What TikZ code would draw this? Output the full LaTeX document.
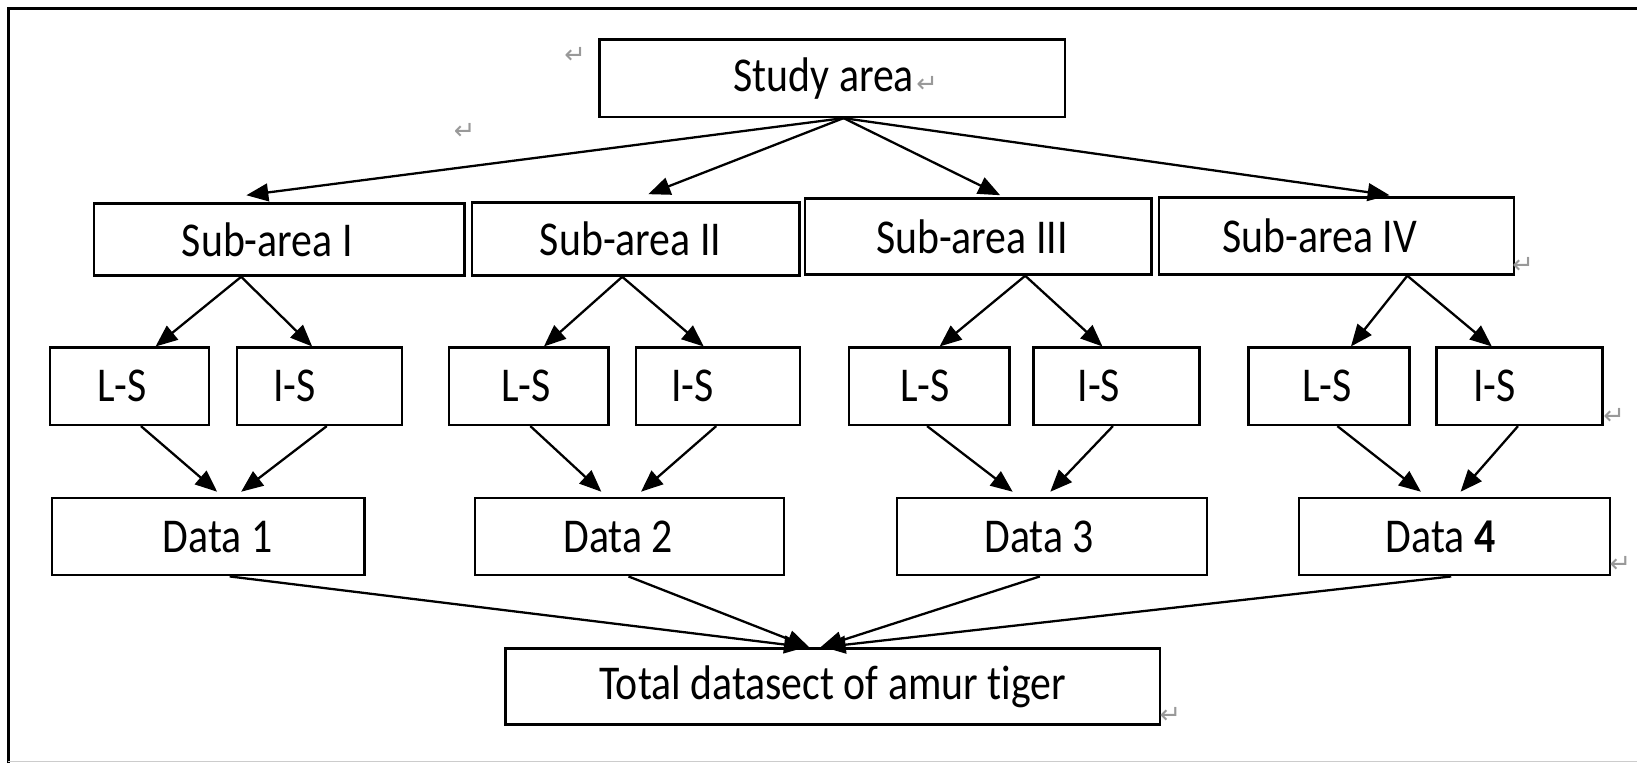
\documentclass[tikz,border=0pt]{standalone}
\usepackage{fontspec}
\setmainfont{Carlito}[FakeStretch=0.86,RawFeature={-liga}]
\newfontfamily\symfont{DejaVu Sans}
\usetikzlibrary{arrows.meta}
\begin{document}
\begin{tikzpicture}[x=0.02cm,y=-0.02cm,
 box/.style={draw,line width=1.3pt,inner sep=0pt,minimum height=1.48cm},
 lbl/.style={font=\fontsize{26.5}{30}\selectfont,inner sep=0pt},
 arr/.style={line width=1.25pt,-{Triangle[length=0.42cm,width=0.34cm]}},
 ret/.style={font=\symfont\fontsize{14}{15}\selectfont,text=gray!80,inner sep=0pt}]
\useasboundingbox (0,0) rectangle (1568,731);
% frame
\draw[line width=1.3pt] (8,731) -- (8,8) -- (1568,8);
\draw[line width=0.6pt,gray!40] (8,729) -- (1568,729);
% nodes
\node[box,minimum width=8.92cm,label={[lbl,xshift=-0.16cm]center:Study area}] (st) at (797,75) {};
\node[box,minimum width=7.10cm,minimum height=1.38cm,label={[lbl,xshift=-0.23cm]center:Sub-area I}] (s1) at (267.5,229.5) {};
\node[box,minimum width=6.28cm,minimum height=1.40cm,label={[lbl,xshift=-0.10cm]center:Sub-area II}] (s2) at (609,229) {};
\node[box,minimum width=6.64cm,minimum height=1.46cm,label={[lbl,xshift=-0.12cm]center:Sub-area III}] (s3) at (937,226.5) {};
\node[box,minimum width=6.80cm,label={[lbl,xshift=-0.32cm]center:Sub-area IV}] (s4) at (1280,226) {};
\node[box,minimum width=3.04cm,label={[lbl,xshift=-0.14cm]center:L-S}] (l1) at (124,370) {};
\node[box,minimum width=3.16cm,label={[lbl,xshift=-0.48cm]center:I-S}] (i1) at (306,370) {};
\node[box,minimum width=3.06cm,label={[lbl,xshift=-0.05cm]center:L-S}] (l2) at (506.5,370) {};
\node[box,minimum width=3.14cm,label={[lbl,xshift=-0.48cm]center:I-S}] (i2) at (687.5,370) {};
\node[box,minimum width=3.08cm,label={[lbl,xshift=-0.08cm]center:L-S}] (l3) at (890,370) {};
\node[box,minimum width=3.18cm,label={[lbl,xshift=-0.34cm]center:I-S}] (i3) at (1069.5,370) {};
\node[box,minimum width=3.08cm,label={[lbl,xshift=-0.04cm]center:L-S}] (l4) at (1273,370) {};
\node[box,minimum width=3.18cm,label={[lbl,xshift=-0.48cm]center:I-S}] (i4) at (1455.5,370) {};
\node[box,minimum width=5.98cm,label={[lbl,xshift=0.18cm]center:Data 1}] (d1) at (199.5,514) {};
\node[box,minimum width=5.92cm,label={[lbl,xshift=-0.22cm]center:Data 2}] (d2) at (603,514) {};
\node[box,minimum width=5.94cm,label={[lbl,xshift=-0.24cm]center:Data 3}] (d3) at (1007.5,514) {};
\node[box,minimum width=5.96cm,label={[lbl,xshift=-0.26cm]center:Data \textbf{4}}] (d4) at (1393,514) {};
\node[box,minimum width=12.54cm,minimum height=1.46cm,label={[lbl]center:Total datasect of amur tiger}] (tot) at (797.5,657.5) {};
% paragraph marks
\node[ret] (r1) at (551,53) {↵};
\node[ret] (r2) at (445,126) {↵};
\node[ret] (r3) at (888,81) {↵};
\node[ret] (r4) at (1459,254) {↵};
\node[ret] (r5) at (1546,399) {↵};
\node[ret] (r6) at (1552,541) {↵};
\node[ret] (r7) at (1121,685) {↵};
% study -> sub-areas
\coordinate (sa) at (808,0 |- st.south);
\draw[arr] (sa) -- (236,187);
\draw[arr] (sa) -- (621,186);
\draw[arr] (sa) -- (958,187);
\draw[arr] (sa) -- (1331,187);
% sub-areas -> L-S / I-S
\draw[arr] (231,0 |- s1.south) -- (149,0 |- l1.north);
\draw[arr] (231,0 |- s1.south) -- (299,0 |- i1.north);
\draw[arr] (596,0 |- s2.south) -- (521,0 |- l2.north);
\draw[arr] (596,0 |- s2.south) -- (674,0 |- i2.north);
\draw[arr] (982,0 |- s3.south) -- (900,0 |- l3.north);
\draw[arr] (982,0 |- s3.south) -- (1056,0 |- i3.north);
\draw[arr] (1348,0 |- s4.south) -- (1294,0 |- l4.north);
\draw[arr] (1348,0 |- s4.south) -- (1429,0 |- i4.north);
% L-S / I-S -> data
\draw[arr] (135,0 |- l1.south) -- (208,471);
\draw[arr] (313,0 |- i1.south) -- (231,471);
\draw[arr] (508,0 |- l2.south) -- (576,471);
\draw[arr] (686,0 |- i2.south) -- (614,471);
\draw[arr] (888,0 |- l3.south) -- (970,471);
\draw[arr] (1066,0 |- i3.south) -- (1006,471);
\draw[arr] (1281,0 |- l4.south) -- (1361,471);
\draw[arr] (1454,0 |- i4.south) -- (1399,471);
% data -> total
\draw[arr] (220,0 |- d1.south) -- (772,0 |- tot.north);
\draw[arr] (602,0 |- d2.south) -- (775,0 |- tot.north);
\draw[arr] (996,0 |- d3.south) -- (786,0 |- tot.north);
\draw[arr] (1390,0 |- d4.south) -- (789,0 |- tot.north);
\end{tikzpicture}
\end{document}
